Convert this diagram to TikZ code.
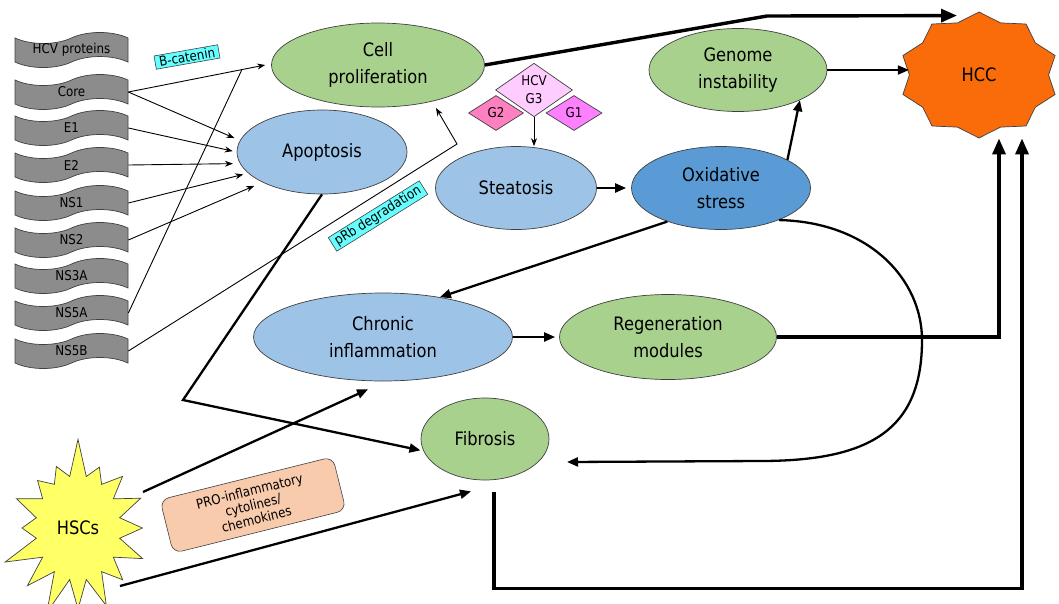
\documentclass[tikz,border=0pt]{standalone}
\usepackage{graphicx}
\usepackage{fontspec}
\setmainfont{DejaVu Sans}[FakeStretch=0.88]
\usetikzlibrary{shapes.geometric,shapes.symbols,arrows.meta}

\definecolor{cellgreen}{RGB}{169,209,142}
\definecolor{paleblue}{RGB}{157,195,230}
\definecolor{oxblue}{RGB}{91,155,213}
\definecolor{hccorange}{RGB}{250,108,10}
\definecolor{hscyellow}{RGB}{255,255,102}
\definecolor{labelcyan}{RGB}{102,255,255}
\definecolor{cytosalmon}{RGB}{248,203,173}
\definecolor{wavegray}{RGB}{140,140,140}
\definecolor{gthree}{RGB}{255,204,255}
\definecolor{gtwo}{RGB}{255,128,192}
\definecolor{gone}{RGB}{255,128,255}
\definecolor{edgegray}{RGB}{64,64,64}

\tikzset{
  process/.style={ellipse, draw=edgegray, line width=0.7pt, inner sep=0pt, align=center,
    font=\fontsize{18.5}{26.5}\selectfont},
  protein/.style={tape, draw=edgegray, fill=wavegray, line width=0.7pt, minimum width=113pt,
    minimum height=35pt, tape bend height=11pt, inner sep=0pt, font=\fontsize{13.5}{15}\selectfont},
  genotype/.style={diamond, draw=edgegray, line width=0.7pt, inner sep=0pt, align=center,
    font=\fontsize{13.5}{18}\selectfont},
  tag/.style={draw=edgegray, fill=labelcyan, line width=0.6pt, inner xsep=4pt, inner ysep=1.5pt,
    font=\fontsize{13.5}{15}\selectfont},
  thinarr/.style={line width=0.9pt, -{Stealth[length=8pt,width=6pt]}},
  medarr/.style={line width=2.3pt, -{Triangle[length=11pt,width=9pt]}},
  thickarr/.style={line width=3.4pt, -{Triangle[length=16pt,width=13pt]}},
}

\begin{document}
\begin{tikzpicture}[x=1pt,y=-1pt]
\useasboundingbox (0,0) rectangle (1059,603);
\clip (0,0) rectangle (1059,603);
\node[protein] (hcvp) at (71.5,50) {HCV proteins};
\node[protein] (core) at (71.5,92) {Core};
\node[protein] (e1) at (71.5,128) {E1};
\node[protein] (e2) at (71.5,165) {E2};
\node[protein] (ns1) at (71.5,203) {NS1};
\node[protein] (ns2) at (71.5,240) {NS2};
\node[protein] (ns3a) at (71.5,276) {NS3A};
\node[protein] (ns5a) at (71.5,313) {NS5A};
\node[protein] (ns5b) at (71.5,351) {NS5B};
\node[process, fill=cellgreen, minimum width=213pt, minimum height=84pt] (cell) at (378,65) {Cell\\proliferation};
\node[process, fill=paleblue, minimum width=170pt, minimum height=84pt] (apop) at (322,152) {Apoptosis};
\node[process, fill=paleblue, minimum width=161pt, minimum height=83pt] (steat) at (516,188) {Steatosis};
\node[process, fill=oxblue, minimum width=179pt, minimum height=83pt] (oxid) at (721,188) {Oxidative\\stress};
\node[process, fill=cellgreen, minimum width=178pt, minimum height=83pt] (genome) at (738,70) {Genome\\instability};
\node[process, fill=paleblue, minimum width=259pt, minimum height=88pt] (chronic) at (383,337) {Chronic\\inflammation};
\node[process, fill=cellgreen, minimum width=217pt, minimum height=85pt] (regen) at (668,337) {Regeneration\\modules};
\node[process, fill=cellgreen, minimum width=128pt, minimum height=82pt] (fib) at (485,439) {Fibrosis};
\node[star, star points=10, star point ratio=1.15, minimum size=126pt, inner sep=0pt, xscale=1.27, transform shape,
  draw=edgegray, line width=0.7pt, fill=hccorange, font=\fontsize{18.5}{22}\selectfont] (hcc) at (979,75) {\scalebox{0.787}[1]{HCC}};
\node[starburst, starburst points=16, starburst point height=40pt, random starburst=7, minimum width=165pt,
  minimum height=185pt, inner sep=0pt, draw=edgegray, line width=0.7pt, fill=hscyellow,
  font=\fontsize{18.5}{22}\selectfont] (hscs) at (78,528) {HSCs};
\node[genotype, fill=gthree, minimum width=77pt, minimum height=51pt] (g3) at (534,90) {HCV\\G3};
\node[genotype, fill=gtwo, minimum width=55pt, minimum height=35pt] (g2) at (496,113) {G2};
\node[genotype, fill=gone, minimum width=56pt, minimum height=35pt] (g1) at (574,113) {G1};
\node[tag, rotate=10] (bcat) at (187,57) {B-catenin};
\node[tag, rotate=32] (prb) at (378,216) {pRb degradation};
\node[draw=edgegray, fill=cytosalmon, line width=0.6pt, rounded corners=9pt, rotate=14, minimum width=178pt,
  minimum height=55pt, align=center, font=\fontsize{13.5}{14.5}\selectfont] (cyto) at (253,505) {PRO-inflammatory\\cytolines/\\chemokines};
\path (core.east) -- ([xshift=-6pt]cell.west) coordinate[pos=0.83] (bjoin);
\draw [thinarr] (core.east) -- ([xshift=-6pt]cell.west);
\draw [thinarr, shorten >=6pt] (core.east) -- (apop.172);
\draw [thinarr, shorten >=4pt] (e1.east) -- (apop.west);
\draw [thinarr, shorten >=7pt] (e2.east) -- (apop.188);
\draw [thinarr, shorten >=5pt] (ns1.east) -- (apop.196);
\draw [thinarr, shorten >=9pt] (ns2.east) -- (apop.207);
\draw [line width=0.9pt] (ns5a.east) -- (bjoin);
\draw [thinarr] (ns5b.east) -- (457,144) -- ([shift={(58,43)}]cell.center);
\draw [thinarr] (g3.south) -- (g3.south |- steat.north);
\draw [medarr, shorten >=5pt] (steat.east) -- (oxid.west);
\draw [medarr] (oxid.23) -- (genome.-26);
\draw [medarr] (oxid.212) -- (chronic.35);
\draw [medarr, shorten >=4pt] (chronic.east) -- (regen.west);
\draw [medarr, line width=1.6pt] (genome.east) -- (genome.east -| hcc.west);
\draw [medarr, shorten >=3pt] (apop.south) -- (183,400) -- (fib.191);
\draw [medarr] ([shift={(65,-36)}]hscs.center) -- ([shift={(-15,8)}]chronic.south);
\draw [medarr] ([shift={(42,58)}]hscs.center) -- ([shift={(-14,11)}]fib.south);
\draw [medarr] (oxid.-29) .. controls (870,222) and (922,280) .. (922,340)
  .. controls (922,430) and (870,461) .. (760,461) -- ([shift={(82,23)}]fib.center);
\draw [thickarr] (cell.east) -- (767,16) -- ([shift={(-22,4)}]hcc.north);
\draw [thickarr] (regen.east) -| ([xshift=20pt]hcc.south);
\draw [thickarr] ([shift={(9,12)}]fib.south) -- ++(0,96) -| ([xshift=43pt]hcc.south);
\end{tikzpicture}
\end{document}
